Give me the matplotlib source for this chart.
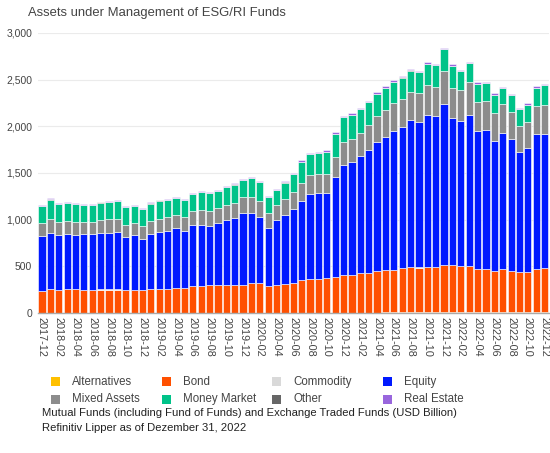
import matplotlib
matplotlib.use("Agg")
import matplotlib.pyplot as plt
from matplotlib.patches import Rectangle
import numpy as np

plt.rcParams['font.family'] = ['Liberation Sans', 'DejaVu Sans']

months = []
for y in range(2017, 2023):
    for m in range(1, 13):
        if (y == 2017 and m < 12):
            continue
        months.append(f"{y}-{m:02d}")

alternatives = [2]*21 + [4]*20 + [7]*20
bond = [235, 251, 244, 251, 251, 244, 244, 248, 248, 248, 244, 244, 244, 251, 253, 255, 262, 269, 287, 290,
        294, 296, 296, 299, 299, 314, 314, 285, 292, 303, 318, 349, 360, 360, 367, 378, 403, 406, 424, 424,
        442, 450, 457, 475, 482, 480, 482, 482, 507, 503, 496, 493, 461, 467, 446, 461, 446, 428, 428, 461, 475]
commodity = [2]*61
equity = [584, 604, 590, 590, 579, 597, 597, 603, 607, 618, 568, 586, 547, 590, 608, 622, 640, 601, 651, 648,
          633, 661, 696, 708, 762, 753, 704, 622, 697, 743, 786, 843, 904, 915, 918, 1071, 1175, 1211, 1250, 1321,
          1385, 1428, 1489, 1506, 1574, 1562, 1631, 1617, 1724, 1582, 1553, 1620, 1481, 1485, 1385, 1463, 1410, 1286, 1336, 1453, 1439]
mixed_assets = [137, 143, 139, 142, 139, 128, 135, 139, 143, 139, 129, 132, 135, 142, 137, 143, 143, 150, 153, 160,
                160, 160, 158, 164, 178, 175, 174, 157, 161, 171, 183, 193, 207, 203, 200, 214, 249, 242, 249, 264,
                275, 285, 295, 300, 307, 310, 318, 314, 353, 321, 328, 353, 310, 307, 304, 303, 286, 285, 274, 292, 306]
money_market = [188, 213, 187, 188, 195, 181, 174, 188, 187, 187, 187, 180, 181, 185, 202, 187, 184, 187, 181, 193,
                192, 187, 194, 199, 180, 200, 201, 169, 164, 174, 195, 230, 226, 230, 237, 252, 266, 259, 256, 241,
                241, 241, 227, 233, 226, 218, 230, 233, 234, 233, 205, 202, 195, 195, 194, 170, 183, 173, 184, 198, 213]
other = [2]*61
real_estate = [10]*31 + [14]*30

series = [
    ("Alternatives", alternatives, "#FFC000"),
    ("Bond", bond, "#FF5000"),
    ("Commodity", commodity, "#D9D9D9"),
    ("Equity", equity, "#0019FF"),
    ("Mixed Assets", mixed_assets, "#8C8C8C"),
    ("Money Market", money_market, "#00C389"),
    ("Other", other, "#666666"),
    ("Real Estate", real_estate, "#9966DD"),
]

W, H = 550, 453
fig = plt.figure(figsize=(W/100, H/100), dpi=100)
ax = fig.add_axes([37.8/W, (H-313)/H, 511/W, 280/H])

x = np.arange(len(months))
bottom = np.zeros(len(months))
for name, vals, col in series:
    v = np.array(vals, dtype=float)
    ax.bar(x, v, bottom=bottom, width=0.86, color=col, edgecolor='white', linewidth=0.4, zorder=3)
    bottom += v

ax.set_xlim(-0.5, len(months) - 0.5)
ax.set_ylim(0, 3000)
ax.set_yticks(range(0, 3001, 500))
ax.set_yticklabels([f"{v:,}" for v in range(0, 3001, 500)], fontsize=7.5, color='#444444')
ax.yaxis.grid(True, color='#EBEBEB', linewidth=0.8, zorder=0)
ax.set_axisbelow(True)
ax.tick_params(axis='y', length=0, pad=4)
ax.set_xticks(x[::2])
ax.set_xticklabels(months[::2], rotation=270, fontsize=7.8, color='#444444', va='top', ha='center')
ax.tick_params(axis='x', length=0, pad=3)
for s in ['top', 'right', 'left']:
    ax.spines[s].set_visible(False)
ax.spines['bottom'].set_color('#AAAAAA')
ax.spines['bottom'].set_linewidth(1.0)
ax.spines['bottom'].set_zorder(5)

fig.text(28/W, 1 - 13/H, "Assets under Management of ESG/RI Funds", fontsize=9.4, color='#444444',
         ha='left', va='center')

# legend, row-major like the reference
col_x = [50.7, 161.7, 272.2, 382.7]
row_y = [381.7, 399.3]
sq = 9.2
for i, (name, _, col) in enumerate(series):
    r, c = divmod(i, 4)
    cx, cy = col_x[c], row_y[r]
    fig.add_artist(Rectangle((cx/W, 1 - (cy + sq/2)/H), sq/W, sq/H, transform=fig.transFigure,
                             facecolor=col, edgecolor='none'))
    fig.text((cx + 21)/W, 1 - cy/H, name, fontsize=8.3, color='#444444', ha='left', va='center')

fig.text(42/W, 1 - 413/H, "Mutual Funds (including Fund of Funds) and Exchange Traded Funds (USD Billion)",
         fontsize=8.15, color='#222222', ha='left', va='center')
fig.text(42/W, 1 - 428/H, "Refinitiv Lipper as of Dezember 31, 2022",
         fontsize=8.15, color='#222222', ha='left', va='center')

fig.savefig("out.png", dpi=100)
